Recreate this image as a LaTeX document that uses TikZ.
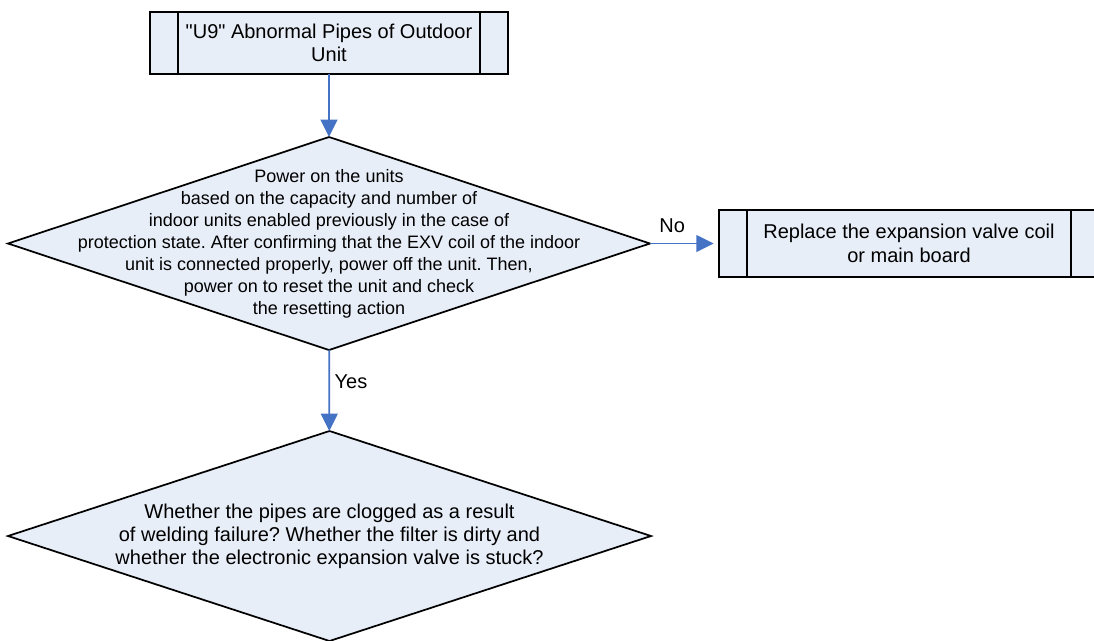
\documentclass[tikz,border=0pt]{standalone}
\usepackage{fontspec}
\setmainfont{Liberation Sans}
\usetikzlibrary{arrows.meta,shapes.geometric}
\frenchspacing
\definecolor{PaleBlue}{RGB}{232,238,248}
\definecolor{FlowBlue}{RGB}{68,114,196}
\tikzset{
  procbox/.style={draw=black,fill=PaleBlue,line width=1.3pt,inner sep=0pt,
    outer sep=0pt,align=center,font=\fontsize{15pt}{17.6pt}\selectfont,
    path picture={\draw[line width=1.3pt]
      ([xshift=21pt]path picture bounding box.north west) --
      ([xshift=21pt]path picture bounding box.south west)
      ([xshift=-21pt]path picture bounding box.north east) --
      ([xshift=-21pt]path picture bounding box.south east);}},
  decision/.style={diamond,draw=black,fill=PaleBlue,line width=1.3pt,
    inner sep=0pt,outer sep=0pt},
  decisiontext/.style={align=center,text=black},
  flow/.style={-{Triangle[length=13pt,width=12.5pt]},line width=1.4pt,FlowBlue},
  flowlabel/.style={font=\fontsize{15pt}{18pt}\selectfont,text=black}
}

\begin{document}
\begin{tikzpicture}[x=0.75pt,y=-0.75pt]
  \useasboundingbox (0,0) rectangle (1094,640);
  % boxes
  \node[procbox,minimum width=268.5pt,minimum height=46.5pt] (faultbox) at (329,43)
    {\textquotedbl U9\textquotedbl{} Abnormal Pipes of Outdoor\\Unit};
  \node[procbox,minimum width=285pt,minimum height=50.25pt] (replacebox) at (909,243.5)
    {Replace the expansion valve coil\\or main board};
  % decisions
  \node[decision,minimum width=481.5pt,minimum height=159.75pt] (powercheck) at (329,243.5) {};
  \node[decisiontext,font=\fontsize{13.5pt}{16.5pt}\selectfont] at (powercheck.center)
    {Power on the units\\
     based on the capacity and number of\\
     indoor units enabled previously in the case of\\
     protection state. After confirming that the EXV coil of the indoor\\
     unit is connected properly, power off the unit. Then,\\
     power on to reset the unit and check\\
     the resetting action};
  \node[decision,minimum width=482.25pt,minimum height=157.5pt] (pipecheck) at (329.5,536) {};
  \node[decisiontext,font=\fontsize{15pt}{17.25pt}\selectfont] at (pipecheck.center)
    {Whether the pipes are clogged as a result\\
     of welding failure? Whether the filter is dirty and\\
     whether the electronic expansion valve is stuck?};
  % connectors
  \draw[flow] (faultbox) -- (powercheck);
  \draw[flow,shorten >=4pt] (powercheck) -- node[flowlabel,above=4pt,pos=0.32] {No} (replacebox);
  \draw[flow] (powercheck) -- node[flowlabel,right,pos=0.39] {Yes} (pipecheck);
\end{tikzpicture}
\end{document}
